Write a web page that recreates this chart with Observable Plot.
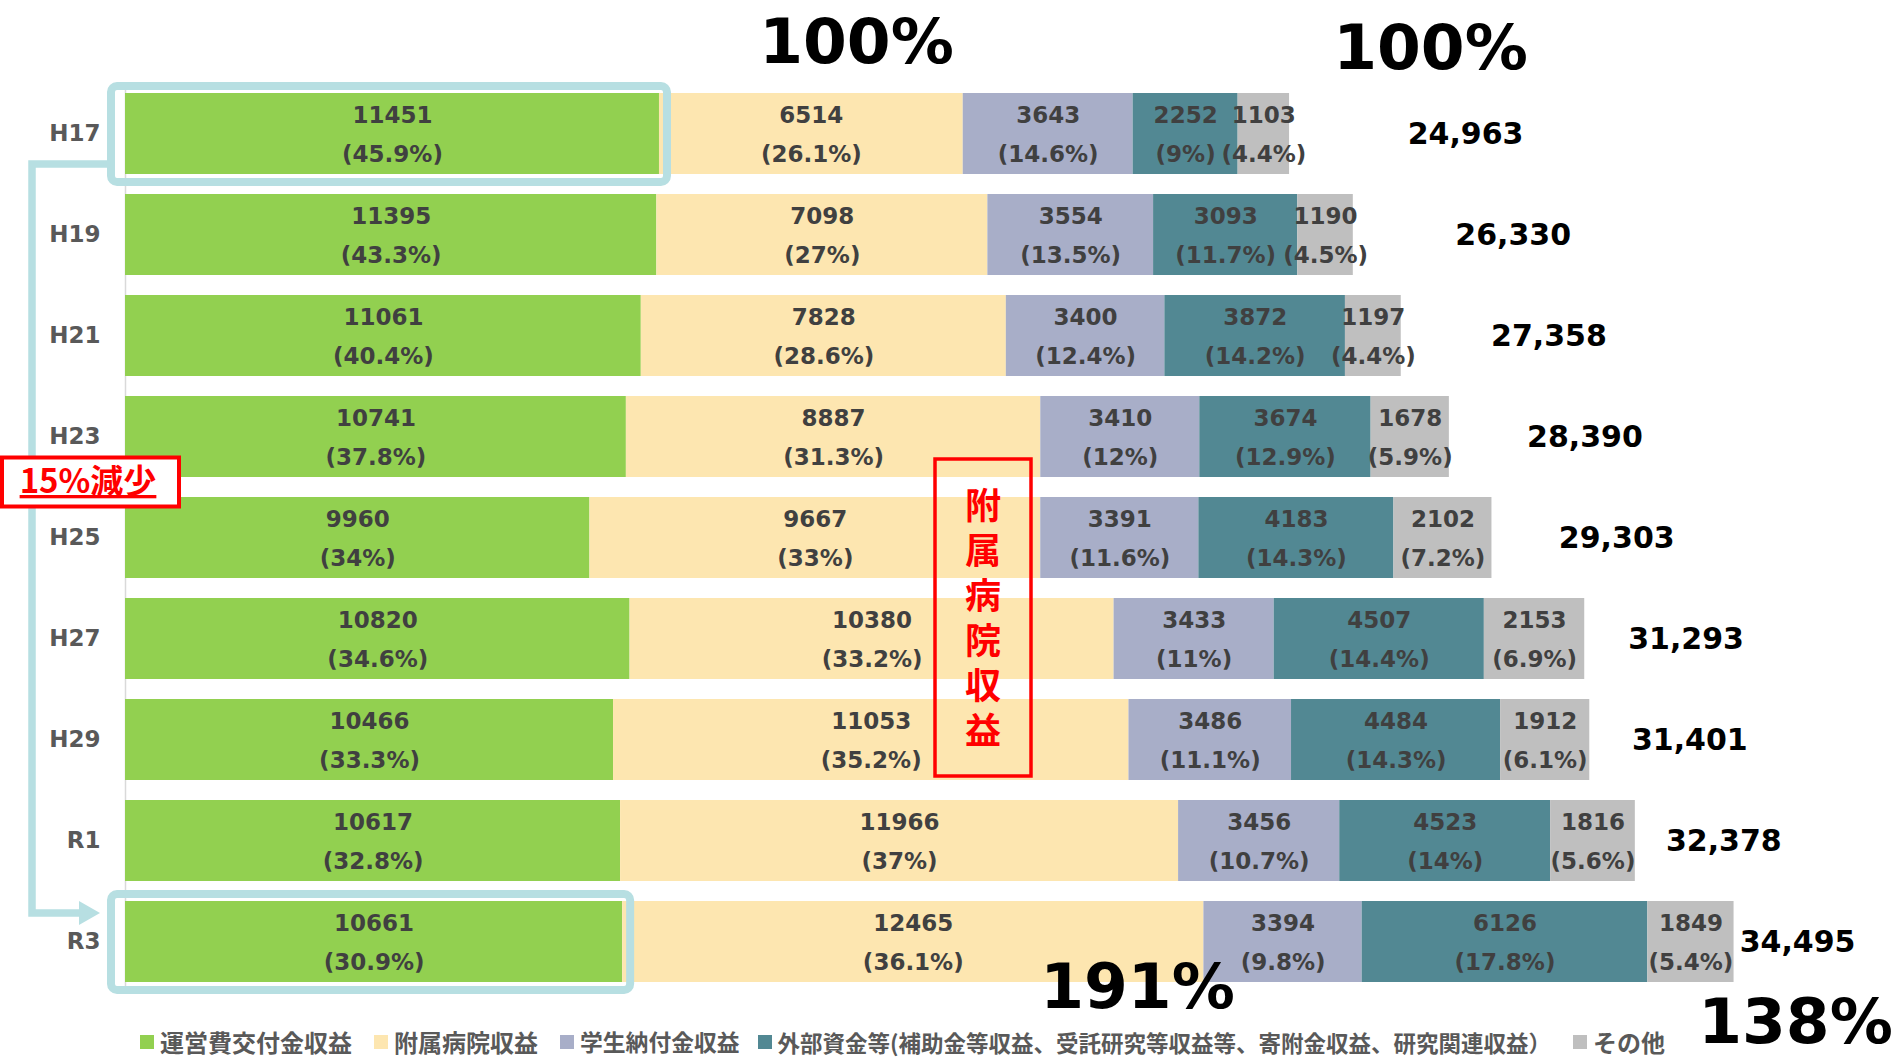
<!DOCTYPE html>
<html>
<head>
<meta charset="utf-8">
<script src="https://cdn.jsdelivr.net/npm/d3@7"></script>
<script src="https://cdn.jsdelivr.net/npm/@observablehq/plot@0.6"></script>
<style>
html, body { margin: 0; padding: 0; background: #fff; overflow: hidden; }
#chart svg { display: block; overflow: visible; }
[aria-label="y-axis tick label"] text { fill: #595959; }
.lg-swatches { margin: -31px 0 0 0 !important; position: relative; line-height: 24px; font-family: "Noto Sans CJK JP", sans-serif !important; font-size: 24px !important; font-weight: bold; color: #595959; }
.lg-swatches-wrap { min-height: 31px !important; height: 31px; padding-left: 140px; flex-wrap: nowrap !important; }
.lg-swatches-wrap .lg-swatch { margin-right: 22px !important; white-space: nowrap; line-height: 24px; }
.lg-swatch > svg { margin-right: 6px !important; }
.lg-swatches-wrap .lg-swatch:nth-child(4) { font-size: 22.8px; margin-right: 18px !important; }
.lg-swatches-wrap .lg-swatch:nth-child(5) { font-size: 22.5px; }
</style>
</head>
<body>
<div id="chart"></div>
<script>
// ---- data ----
const years = ["H17", "H19", "H21", "H23", "H25", "H27", "H29", "R1", "R3"];
const categories = [
  "運営費交付金収益",
  "附属病院収益",
  "学生納付金収益",
  "外部資金等(補助金等収益、受託研究等収益等、寄附金収益、研究関連収益）",
  "その他"
];
const colors = ["#92d050", "#fde6b0", "#a8aec8", "#528893", "#bfbfbf"];

const unei    = [11451, 11395, 11061, 10741, 9960, 10820, 10466, 10617, 10661];
const fuzoku  = [6514, 7098, 7828, 8887, 9667, 10380, 11053, 11966, 12465];
const gakusei = [3643, 3554, 3400, 3410, 3391, 3433, 3486, 3456, 3394];
const gaibu   = [2252, 3093, 3872, 3674, 4183, 4507, 4484, 4523, 6126];
const sonota  = [1103, 1190, 1197, 1678, 2102, 2153, 1912, 1816, 1849];

const ueiPct     = [45.9, 43.3, 40.4, 37.8, 34, 34.6, 33.3, 32.8, 30.9];
const fuzokuPct  = [26.1, 27, 28.6, 31.3, 33, 33.2, 35.2, 37, 36.1];
const gakuseiPct = [14.6, 13.5, 12.4, 12, 11.6, 11, 11.1, 10.7, 9.8];
const gaibuPct   = [9, 11.7, 14.2, 12.9, 14.3, 14.4, 14.3, 14, 17.8];
const sonotaPct  = [4.4, 4.5, 4.4, 5.9, 7.2, 6.9, 6.1, 5.6, 5.4];

const totals = [24963, 26330, 27358, 28390, 29303, 31293, 31401, 32378, 34495];

const bigLabels = ["100%", "100%", "191%", "138%"];
const hospitalLabel = "附属病院収益";
const declineLabel = "15%減少";

// ---- table ----
const series = [unei, fuzoku, gakusei, gaibu, sonota];
const shares = [ueiPct, fuzokuPct, gakuseiPct, gaibuPct, sonotaPct];
const rows = [];
categories.forEach((cat, ci) => {
  years.forEach((year, yi) => {
    rows.push({year, cat, value: series[ci][yi], pct: shares[ci][yi]});
  });
});
const highlight = rows.filter(d => d.cat === categories[0] && (d.year === years[0] || d.year === years[years.length - 1]));
const totalRows = years.map((year, i) => ({year, total: totals[i]}));

// total labels sit on a compressed secondary axis to the right of the bars
const totalLabelAxis = d3.scaleLinear().domain([0, 38000]).range([10090, 10090 + 38000 * 0.747]);

const W = 1897, H = 1057;
const fmt = d3.format(",");
const big = {frameAnchor: "top-left", textAnchor: "middle", lineAnchor: "bottom",
  fontSize: 63, fontWeight: "bold", fill: "#000"};

const chart = Plot.plot({
  width: W,
  height: H,
  marginLeft: 125,
  marginRight: 0,
  marginTop: 82,
  marginBottom: 64,
  style: {fontFamily: "'DejaVu Sans', sans-serif", overflow: "visible", background: "#fff"},
  x: {domain: [0, 38000], axis: null},
  y: {domain: years, paddingInner: 0.2, paddingOuter: 0.1},
  color: {domain: categories, range: colors},
  marks: [
    Plot.ruleX([0], {stroke: "#d9d9d9", strokeWidth: 1.5}),
    Plot.barX(rows, {x: "value", y: "year", fill: "cat", z: "cat"}),
    Plot.barX(highlight, {x: "value", y: "year", fill: "none", stroke: "#b7dfe2", strokeWidth: 8, rx: 6,
      insetLeft: -14, insetRight: -8, insetTop: -7, insetBottom: -8}),
    Plot.text(rows, Plot.stackX({x: "value", y: "year", z: "cat",
      text: d => `${d.value}\n(${d.pct}%)`, lineHeight: 1.7, dy: -4,
      fontSize: 23, fontWeight: "bold", fill: "#404040"})),
    Plot.text(totalRows, {x: d => totalLabelAxis(d.total), y: "year", text: d => fmt(d.total),
      textAnchor: "middle", fontSize: 30, fontWeight: "bold", fill: "#000"}),
    Plot.axisY({tickSize: 0, tickPadding: 25, fontSize: 23, fontWeight: "bold", fill: "#595959", label: null}),
    Plot.text([bigLabels[0]], {...big, dx: 731, dy: -20}),
    Plot.text([bigLabels[1]], {...big, dx: 1305, dy: -14}),
    Plot.text([bigLabels[2]], {...big, dx: 1012, dy: 925}),
    Plot.text([bigLabels[3]], {...big, dx: 1670, dy: 960})
  ]
});

document.getElementById("chart").appendChild(chart);

// ---- annotation frames placed from the chart's own scales ----
const xs = chart.scale("x"), ys = chart.scale("y");
const x0 = xs.apply(0);
const bw = ys.bandwidth, step = ys.step;
const yTop = ys.apply(years[0]), yBot = ys.apply(years[years.length - 1]);
const svg = d3.select(chart);
const ann = svg.append("g").attr("class", "annotations");
const teal = "#b7dfe2", red = "#ff0000";

// elbow arrow from H17 box down to R3 box
const ya = yTop + bw - 10, yb = yBot + 12;
ann.append("path")
  .attr("d", `M${x0 - 18},${ya}H${x0 - 93}V${yb}H${x0 - 44}`)
  .attr("fill", "none").attr("stroke", teal).attr("stroke-width", 7.5)
  .attr("stroke-linecap", "square");
ann.append("path")
  .attr("d", `M${x0 - 46},${yb - 12}L${x0 - 25},${yb}L${x0 - 46},${yb + 12}Z`)
  .attr("fill", teal);

// "15%減少" box
const yGap = ys.apply("H25") - (step - bw) / 2;
ann.append("rect")
  .attr("x", 2).attr("y", yGap - 29.5).attr("width", x0 + 54 - 2).attr("height", 49)
  .attr("fill", "#fff").attr("stroke", red).attr("stroke-width", 4);
ann.append("text")
  .attr("x", 88).attr("y", yGap + 6)
  .attr("text-anchor", "middle")
  .attr("font-family", "'Noto Sans CJK JP', sans-serif")
  .attr("font-size", 33).attr("font-weight", "bold")
  .attr("fill", red).attr("text-decoration", "underline")
  .text(declineLabel);

// vertical "附属病院収益" frame with vertical text
const bx1 = x0 + 810, bx2 = x0 + 906;
const by1 = ys.apply("H23") + 63, by2 = ys.apply("H29") + bw - 4;
ann.append("rect")
  .attr("x", bx1).attr("y", by1).attr("width", bx2 - bx1).attr("height", by2 - by1)
  .attr("fill", "none").attr("stroke", red).attr("stroke-width", 3.5);
ann.append("text")
  .attr("x", (bx1 + bx2) / 2)
  .attr("y", (by1 + by2) / 2 + 4.5)
  .attr("writing-mode", "vertical-rl")
  .attr("text-anchor", "middle")
  .attr("letter-spacing", 9)
  .attr("font-family", "'Noto Sans CJK JP', sans-serif")
  .attr("font-size", 36).attr("font-weight", "bold").attr("fill", red)
  .text(hospitalLabel);

// legend in the strip below the plot area
const legend = Plot.legend({
  legend: "swatches",
  color: {domain: categories, range: colors},
  swatchSize: 14,
  className: "lg"
});
document.getElementById("chart").appendChild(legend);
</script>
</body>
</html>
